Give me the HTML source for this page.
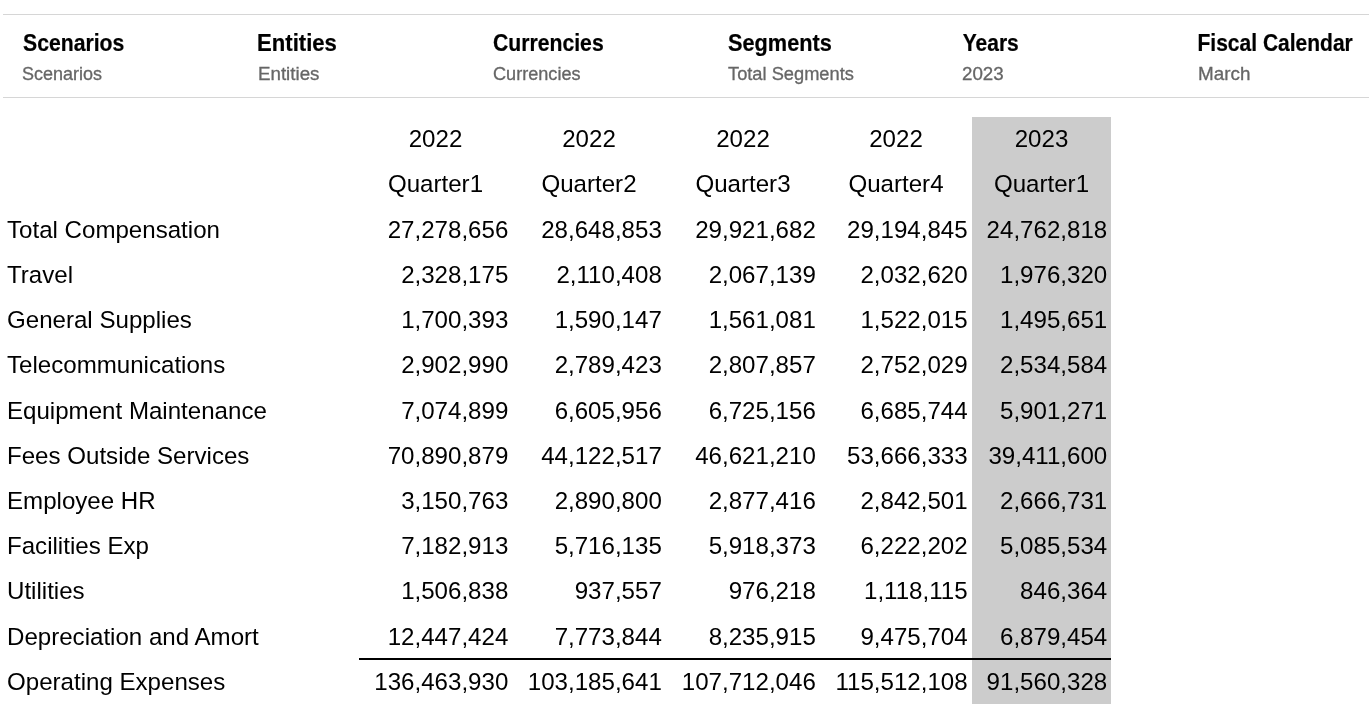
<!DOCTYPE html>
<html><head><meta charset="utf-8"><style>
html,body{margin:0;padding:0;background:#fff;width:1369px;height:719px;overflow:hidden;position:relative;font-family:"Liberation Sans",sans-serif;}
#wrap{position:absolute;left:0;top:0;width:1369px;height:719px;background:#fff;filter:grayscale(1);}
.ln{position:absolute;left:3px;right:0;height:1px;background:#d6d6d6;}
.hl{position:absolute;font-weight:bold;font-size:21px;line-height:21px;color:#000;white-space:nowrap;transform:scaleY(1.095);transform-origin:0 18px;-webkit-text-stroke:0.2px #000;}
.hv{position:absolute;transform-origin:0 15.24px;-webkit-text-stroke:0.3px #666666;font-size:18px;line-height:18px;color:#666666;white-space:nowrap;}
.t{position:absolute;font-size:24.1px;line-height:24px;color:#000;white-space:nowrap;}
.r{text-align:right;}
.c{text-align:center;}
</style></head><body><div id="wrap">
<div class="ln" style="top:14px"></div>
<div class="ln" style="top:97px"></div>
<div class="hl" style="left:22.62px;top:32.6px;transform:scale(1.0088,1.095)">Scenarios</div>
<div class="hv" style="left:21.54px;top:64.6px;transform:scale(0.9989,1.07)">Scenarios</div>
<div class="hl" style="left:257.08px;top:32.6px;transform:scale(1.0536,1.095)">Entities</div>
<div class="hv" style="left:257.69px;top:64.6px;transform:scale(1.0408,1.07)">Entities</div>
<div class="hl" style="left:492.74px;top:32.6px;transform:scale(1.0088,1.095)">Currencies</div>
<div class="hv" style="left:492.58px;top:64.6px;transform:scale(1.006,1.07)">Currencies</div>
<div class="hl" style="left:727.72px;top:32.6px;transform:scale(1.0346,1.095)">Segments</div>
<div class="hv" style="left:728.28px;top:64.6px;transform:scale(1.0147,1.07)">Total Segments</div>
<div class="hl" style="left:962.73px;top:32.6px;transform:scale(1.0,1.095)">Years</div>
<div class="hv" style="left:962.2px;top:64.6px;transform:scale(1.0417,1.07)">2023</div>
<div class="hl" style="left:1197.54px;top:32.6px;transform:scale(1.0,1.095)">Fiscal Calendar</div>
<div class="hv" style="left:1197.6px;top:64.6px;transform:scale(1.0473,1.07)">March</div>
<div style="position:absolute;left:972px;top:117px;width:139px;height:587px;background:#cccccc"></div>
<div style="position:absolute;left:359px;top:658px;width:752px;height:2px;background:#000"></div>
<div class="t c" style="left:359px;width:153px;top:127px">2022</div>
<div class="t c" style="left:359px;width:153px;top:172.2px">Quarter1</div>
<div class="t c" style="left:512px;width:154px;top:127px">2022</div>
<div class="t c" style="left:512px;width:154px;top:172.2px">Quarter2</div>
<div class="t c" style="left:666px;width:154px;top:127px">2022</div>
<div class="t c" style="left:666px;width:154px;top:172.2px">Quarter3</div>
<div class="t c" style="left:820px;width:152px;top:127px">2022</div>
<div class="t c" style="left:820px;width:152px;top:172.2px">Quarter4</div>
<div class="t c" style="left:972px;width:139px;top:127px">2023</div>
<div class="t c" style="left:972px;width:139px;top:172.2px">Quarter1</div>
<div class="t" style="left:7px;top:217.6px">Total Compensation</div>
<div class="t r" style="right:860.7px;top:217.6px">27,278,656</div>
<div class="t r" style="right:707.2px;top:217.6px">28,648,853</div>
<div class="t r" style="right:553.2px;top:217.6px">29,921,682</div>
<div class="t r" style="right:401.4px;top:217.6px">29,194,845</div>
<div class="t r" style="right:261.79999999999995px;top:217.6px">24,762,818</div>
<div class="t" style="left:7px;top:262.8px">Travel</div>
<div class="t r" style="right:860.7px;top:262.8px">2,328,175</div>
<div class="t r" style="right:707.2px;top:262.8px">2,110,408</div>
<div class="t r" style="right:553.2px;top:262.8px">2,067,139</div>
<div class="t r" style="right:401.4px;top:262.8px">2,032,620</div>
<div class="t r" style="right:261.79999999999995px;top:262.8px">1,976,320</div>
<div class="t" style="left:7px;top:308px">General Supplies</div>
<div class="t r" style="right:860.7px;top:308px">1,700,393</div>
<div class="t r" style="right:707.2px;top:308px">1,590,147</div>
<div class="t r" style="right:553.2px;top:308px">1,561,081</div>
<div class="t r" style="right:401.4px;top:308px">1,522,015</div>
<div class="t r" style="right:261.79999999999995px;top:308px">1,495,651</div>
<div class="t" style="left:7px;top:353.3px">Telecommunications</div>
<div class="t r" style="right:860.7px;top:353.3px">2,902,990</div>
<div class="t r" style="right:707.2px;top:353.3px">2,789,423</div>
<div class="t r" style="right:553.2px;top:353.3px">2,807,857</div>
<div class="t r" style="right:401.4px;top:353.3px">2,752,029</div>
<div class="t r" style="right:261.79999999999995px;top:353.3px">2,534,584</div>
<div class="t" style="left:7px;top:398.5px">Equipment Maintenance</div>
<div class="t r" style="right:860.7px;top:398.5px">7,074,899</div>
<div class="t r" style="right:707.2px;top:398.5px">6,605,956</div>
<div class="t r" style="right:553.2px;top:398.5px">6,725,156</div>
<div class="t r" style="right:401.4px;top:398.5px">6,685,744</div>
<div class="t r" style="right:261.79999999999995px;top:398.5px">5,901,271</div>
<div class="t" style="left:7px;top:443.7px">Fees Outside Services</div>
<div class="t r" style="right:860.7px;top:443.7px">70,890,879</div>
<div class="t r" style="right:707.2px;top:443.7px">44,122,517</div>
<div class="t r" style="right:553.2px;top:443.7px">46,621,210</div>
<div class="t r" style="right:401.4px;top:443.7px">53,666,333</div>
<div class="t r" style="right:261.79999999999995px;top:443.7px">39,411,600</div>
<div class="t" style="left:7px;top:488.9px">Employee HR</div>
<div class="t r" style="right:860.7px;top:488.9px">3,150,763</div>
<div class="t r" style="right:707.2px;top:488.9px">2,890,800</div>
<div class="t r" style="right:553.2px;top:488.9px">2,877,416</div>
<div class="t r" style="right:401.4px;top:488.9px">2,842,501</div>
<div class="t r" style="right:261.79999999999995px;top:488.9px">2,666,731</div>
<div class="t" style="left:7px;top:534.2px">Facilities Exp</div>
<div class="t r" style="right:860.7px;top:534.2px">7,182,913</div>
<div class="t r" style="right:707.2px;top:534.2px">5,716,135</div>
<div class="t r" style="right:553.2px;top:534.2px">5,918,373</div>
<div class="t r" style="right:401.4px;top:534.2px">6,222,202</div>
<div class="t r" style="right:261.79999999999995px;top:534.2px">5,085,534</div>
<div class="t" style="left:7px;top:579.4px">Utilities</div>
<div class="t r" style="right:860.7px;top:579.4px">1,506,838</div>
<div class="t r" style="right:707.2px;top:579.4px">937,557</div>
<div class="t r" style="right:553.2px;top:579.4px">976,218</div>
<div class="t r" style="right:401.4px;top:579.4px">1,118,115</div>
<div class="t r" style="right:261.79999999999995px;top:579.4px">846,364</div>
<div class="t" style="left:7px;top:624.6px">Depreciation and Amort</div>
<div class="t r" style="right:860.7px;top:624.6px">12,447,424</div>
<div class="t r" style="right:707.2px;top:624.6px">7,773,844</div>
<div class="t r" style="right:553.2px;top:624.6px">8,235,915</div>
<div class="t r" style="right:401.4px;top:624.6px">9,475,704</div>
<div class="t r" style="right:261.79999999999995px;top:624.6px">6,879,454</div>
<div class="t" style="left:7px;top:670px">Operating Expenses</div>
<div class="t r" style="right:860.7px;top:670px">136,463,930</div>
<div class="t r" style="right:707.2px;top:670px">103,185,641</div>
<div class="t r" style="right:553.2px;top:670px">107,712,046</div>
<div class="t r" style="right:401.4px;top:670px">115,512,108</div>
<div class="t r" style="right:261.79999999999995px;top:670px">91,560,328</div>
</div></body></html>
